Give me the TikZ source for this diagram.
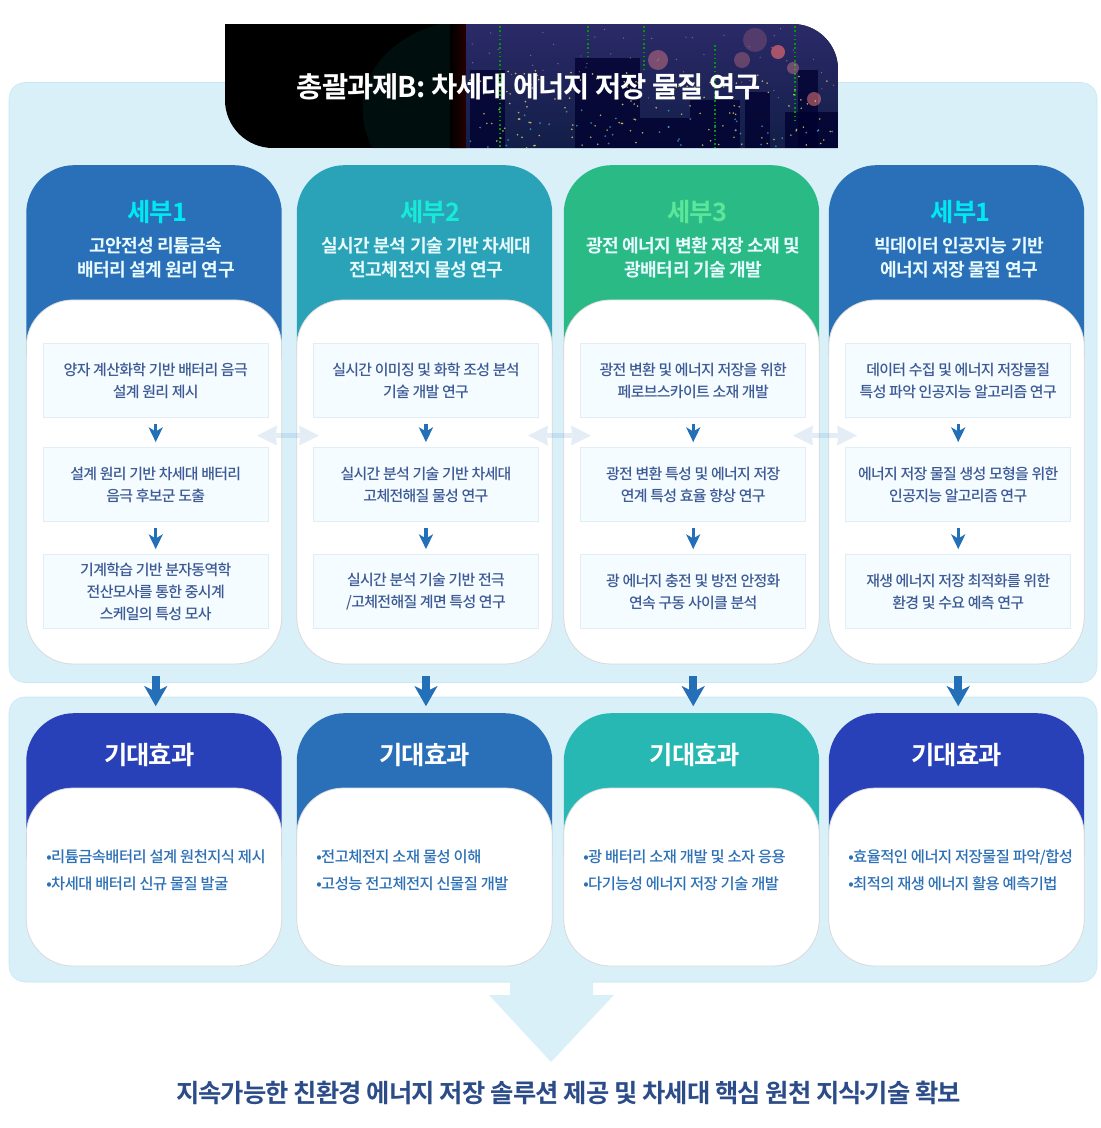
\documentclass[tikz,border=0pt]{standalone}
\usepackage{fontspec}
\setmainfont{Noto Sans CJK KR}
\newfontfamily\krbody[LetterSpace=-3.5]{Noto Sans CJK KR Medium}
\newfontfamily\krstep[LetterSpace=-4.5]{Noto Sans CJK KR Medium}
\newfontfamily\krhead[LetterSpace=-3.5,BoldFont={Noto Sans CJK KR Bold}]{Noto Sans CJK KR}
\usetikzlibrary{arrows.meta}
\definecolor{panelblue}{HTML}{D9F0F9}
\definecolor{paneledge}{HTML}{C6E7F5}
\definecolor{blue1}{HTML}{2970B8}
\definecolor{teal2}{HTML}{2AA2B8}
\definecolor{green3}{HTML}{2ABA85}
\definecolor{navy1}{HTML}{2840B8}
\definecolor{teal3}{HTML}{28B8B4}
\definecolor{boxfill}{HTML}{F4FCFF}
\definecolor{boxedge}{HTML}{E2EEF4}
\definecolor{boxtext}{HTML}{3D5A96}
\definecolor{listtext}{HTML}{2C70B6}
\definecolor{goaltext}{HTML}{2B4C88}
\definecolor{arrowblue}{HTML}{2470B8}
\definecolor{tagcyan}{HTML}{00E8F0}
\definecolor{tagaqua}{HTML}{17EBD8}
\definecolor{tagmint}{HTML}{5CE69A}
\definecolor{titletint}{HTML}{E8FBFF}
\tikzstyle{panel} = [rectangle, rounded corners=12pt, draw=paneledge, fill=panelblue, minimum width=816pt, inner sep=0pt]
\tikzstyle{headbox} = [rectangle, rounded corners=36pt, minimum width=191.6pt, inner sep=0pt]
\tikzstyle{bodybox} = [rectangle, rounded corners=35pt, minimum width=191.6pt, inner sep=0pt, draw=black!15, line width=.6pt, fill=white]
\tikzstyle{stepbox} = [rectangle, minimum width=169pt, minimum height=56pt, inner sep=0pt, draw=boxedge, line width=.8pt, fill=boxfill, text=boxtext, align=center, font=\krstep\fontsize{11.2}{16.5}\selectfont, execute at begin node={\rule{0pt}{15.4pt}}]
\tikzstyle{tagtext} = [font=\krhead\bfseries\fontsize{19}{23}\selectfont]
\tikzstyle{titletext} = [text=titletint, align=center, font=\krhead\bfseries\fontsize{13.6}{18.2}\selectfont]
\tikzstyle{effecttext} = [text=white, font=\krhead\bfseries\fontsize{19}{23}\selectfont]
\tikzstyle{listtext} = [inner sep=0pt, anchor=west, align=left, text=listtext, font=\krbody\fontsize{11.5}{20.25}\selectfont]
\tikzstyle{arrow} = [line width=2.4pt, draw=arrowblue, -{Stealth[length=11pt,width=10.5pt,inset=3pt]}, shorten <=4.4pt, shorten >=3.4pt]
\tikzstyle{bigarrow} = [line width=6pt, draw=arrowblue, -{Stealth[length=15pt,width=17pt,inset=4pt]}]
\tikzstyle{linkarrow} = [line width=3.6pt, draw=arrowblue, opacity=.12, {Stealth[length=15pt,width=15pt,inset=1pt,line width=0pt]}-{Stealth[length=15pt,width=15pt,inset=1pt,line width=0pt]}]

\begin{document}
\begin{tikzpicture}[x=0.75pt, y=-0.75pt]
\useasboundingbox (0,0) rectangle (1100,1128);

% panels and the big arrow
\fill [panelblue] (510,975) -- (593,975) -- (593,995) -- (614,995) -- (551,1062) -- (489,995) -- (510,995) -- cycle;
\node (panelA) [panel, minimum height=450pt] at (553,382.5) {};
\node (panelB) [panel, minimum height=213.75pt] at (553,839.5) {};
\fill [panelblue] (511,970) rectangle (592,995);

% banner
\begin{scope}
\clip [sharp corners] (225,24) [rounded corners=34pt] -- (838,24) [sharp corners] -- (838,148) [rounded corners=36pt] -- (225,148) [sharp corners] -- cycle;
\fill [black] (225,24) rectangle (838,148);
\fill [black!75!teal, opacity=.45] (372,148) .. controls (345,90) and (380,40) .. (440,24) -- (466,24) -- (466,148) -- cycle;
\shade [left color=black, right color=black!85!red] (450,24) rectangle (466,148);
\shade [top color={rgb,255:red,43;green,42;blue,104}, bottom color={rgb,255:red,18;green,30;blue,72}] (466,24) rectangle (838,148);
% city
\fill [black!70!blue!60!black, opacity=.75] (470,70) rectangle (505,148);
\fill [black!70!blue!60!black, opacity=.75] (575,58) rectangle (640,148);
\fill [black!70!blue!60!black, opacity=.75] (640,118) rectangle (690,148);
\fill [black!70!blue!60!black, opacity=.75] (690,100) rectangle (740,148);
\fill [black!70!blue!60!black, opacity=.75] (745,92) rectangle (770,148);
\fill [black!70!blue!60!black, opacity=.75] (798,70) rectangle (818,148);
\fill [black!70!blue!60!black, opacity=.75] (785,112) rectangle (838,148);
\draw [green!60!black, dotted, line width=1.2pt] (588,26) -- (588,60);
\draw [green!60!black, dotted, line width=1.2pt] (644,26) -- (644,70);
\draw [green!60!black, dotted, line width=1.2pt] (715,45) -- (715,148);
\draw [green!60!black, dotted, line width=1.2pt] (795,26) -- (795,120);
\draw [green!60!black, dotted, line width=1.2pt] (500,26) -- (500,148);
\fill [red!45!white, opacity=.4] (658,60) circle (10);
\fill [red!45!white, opacity=.2] (755,40) circle (12);
\fill [red!55!white, opacity=.6] (778,52) circle (7);
\fill [red!40!white, opacity=.35] (793,68) circle (6);
\fill [red!50!white, opacity=.5] (814,99) circle (7);
\fill [red!45!white, opacity=.3] (742,60) circle (8);
\pgfmathsetseed{7}
\foreach \i in {1,...,130}
  \fill [yellow!60!white, opacity=.7] ({470+rnd*366},{70+rnd*78}) circle (.9);
\foreach \i in {1,...,60}
  \fill [red!40!white, opacity=.5] ({470+rnd*366},{28+rnd*70}) circle (.7);
\foreach \i in {1,...,40}
  \fill [cyan!70!white, opacity=.6] ({470+rnd*366},{110+rnd*38}) circle (1);
\end{scope}
\node (banner) [text=white, font=\krhead\bfseries\fontsize{21.4}{25}\selectfont] at (529,87) {총괄과제B: 차세대 에너지 저장 물질 연구};

% research cards
\node (head1) [headbox, fill=blue1, minimum height=176pt] at (154,282.5) {};
\node (head2) [headbox, fill=teal2, minimum height=176pt] at (424.5,282.5) {};
\node (head3) [headbox, fill=green3, minimum height=176pt] at (691.5,282.5) {};
\node (head4) [headbox, fill=blue1, minimum height=176pt] at (956.5,282.5) {};

\node (tag1) [tagtext, text=tagcyan, node distance=53pt, above of=head1, xshift=2.4pt] {세부1};
\node (tag2) [tagtext, text=tagaqua, node distance=53pt, above of=head2, xshift=4.2pt] {세부2};
\node (tag3) [tagtext, text=tagmint, node distance=53pt, above of=head3, xshift=4.2pt] {세부3};
\node (tag4) [tagtext, text=tagcyan, node distance=53pt, above of=head4, xshift=3pt] {세부1};

\node (title1) [titletext, node distance=18.4pt, above of=head1, xshift=1.5pt] {고안전성 리튬금속\\배터리 설계 원리 연구};
\node (title2) [titletext, node distance=18.4pt, above of=head2, xshift=1.5pt] {실시간 분석 기술 기반 차세대\\전고체전지 물성 연구};
\node (title3) [titletext, node distance=18.4pt, above of=head3, xshift=1.5pt] {광전 에너지 변환 저장 소재 및\\광배터리 기술 개발};
\node (title4) [titletext, node distance=18.4pt, above of=head4, xshift=2pt] {빅데이터 인공지능 기반\\에너지 저장 물질 연구};

\node (body1) [bodybox, minimum height=273pt, node distance=149.6pt, below of=head1] {};
\node (body2) [bodybox, minimum height=273pt, node distance=149.6pt, below of=head2] {};
\node (body3) [bodybox, minimum height=273pt, node distance=149.6pt, below of=head3] {};
\node (body4) [bodybox, minimum height=273pt, node distance=149.6pt, below of=head4] {};

\node (a1) [stepbox, node distance=76.1pt, above of=body1, xshift=1.3pt] {양자 계산화학 기반 배터리 음극\\설계 원리 제시};
\node (a2) [stepbox, node distance=78pt, below of=a1] {설계 원리 기반 차세대 배터리\\음극 후보군 도출};
\node (a3) [stepbox, node distance=80.25pt, below of=a2] {기계학습 기반 분자동역학\\전산모사를 통한 중시계\\스케일의 특성 모사};

\node (b1) [stepbox, node distance=76.1pt, above of=body2, xshift=1.1pt] {실시간 이미징 및 화학 조성 분석\\기술 개발 연구};
\node (b2) [stepbox, node distance=78pt, below of=b1] {실시간 분석 기술 기반 차세대\\고체전해질 물성 연구};
\node (b3) [stepbox, node distance=80.25pt, below of=b2] {실시간 분석 기술 기반 전극\\/고체전해질 계면 특성 연구};

\node (c1) [stepbox, node distance=76.1pt, above of=body3, xshift=1.3pt] {광전 변환 및 에너지 저장을 위한\\페로브스카이트 소재 개발};
\node (c2) [stepbox, node distance=78pt, below of=c1] {광전 변환 특성 및 에너지 저장\\연계 특성 효율 향상 연구};
\node (c3) [stepbox, node distance=80.25pt, below of=c2] {광 에너지 충전 및 방전 안정화\\연속 구동 사이클 분석};

\node (d1) [stepbox, node distance=76.1pt, above of=body4, xshift=1.3pt] {데이터 수집 및 에너지 저장물질\\특성 파악 인공지능 알고리즘 연구};
\node (d2) [stepbox, node distance=78pt, below of=d1] {에너지 저장 물질 생성 모형을 위한\\인공지능 알고리즘 연구};
\node (d3) [stepbox, node distance=80.25pt, below of=d2] {재생 에너지 저장 최적화를 위한\\환경 및 수요 예측 연구};

% effect cards
\node (ehead1) [headbox, fill=navy1, minimum height=140pt] at (154,806.5) {};
\node (ehead2) [headbox, fill=blue1, minimum height=140pt] at (424.5,806.5) {};
\node (ehead3) [headbox, fill=teal3, minimum height=140pt] at (691.5,806.5) {};
\node (ehead4) [headbox, fill=navy1, minimum height=140pt] at (956.5,806.5) {};

\node (eff1) [effecttext, node distance=39pt, above of=ehead1, xshift=-3.5pt] {기대효과};
\node (eff2) [effecttext, node distance=39pt, above of=ehead2] {기대효과};
\node (eff3) [effecttext, node distance=39pt, above of=ehead3, xshift=2.5pt] {기대효과};
\node (eff4) [effecttext, node distance=39pt, above of=ehead4] {기대효과};

\node (ebody1) [bodybox, minimum height=133.5pt, node distance=52.9pt, below of=ehead1] {};
\node (ebody2) [bodybox, minimum height=133.5pt, node distance=52.9pt, below of=ehead2] {};
\node (ebody3) [bodybox, minimum height=133.5pt, node distance=52.9pt, below of=ehead3] {};
\node (ebody4) [bodybox, minimum height=133.5pt, node distance=52.9pt, below of=ehead4] {};

\node (list1) [listtext] at (46,870.5) {•리튬금속배터리 설계 원천지식 제시\\•차세대 배터리 신규 물질 발굴};
\node (list2) [listtext] at (316,870.5) {•전고체전지 소재 물성 이해\\•고성능 전고체전지 신물질 개발};
\node (list3) [listtext] at (583,870.5) {•광 배터리 소재 개발 및 소자 응용\\•다기능성 에너지 저장 기술 개발};
\node (list4) [listtext] at (848,870.5) {•효율적인 에너지 저장물질 파악/합성\\•최적의 재생 에너지 활용 예측기법};

\node (goal) [text=goaltext, font=\krhead\bfseries\fontsize{19}{23}\selectfont] at (568.5,1093) {지속가능한 친환경 에너지 저장 솔루션 제공 및 차세대 핵심 원천 지식{\kern-.25em·\kern-.25em}기술 확보};

% arrows
\draw [arrow] (a1) -- (a2);
\draw [arrow] (a2) -- (a3);
\draw [arrow] (b1) -- (b2);
\draw [arrow] (b2) -- (b3);
\draw [arrow] (c1) -- (c2);
\draw [arrow] (c2) -- (c3);
\draw [arrow] (d1) -- (d2);
\draw [arrow] (d2) -- (d3);

\draw [bigarrow, shorten <=35pt, shorten >=5pt] (a3.south) -- (a3.south |- ehead1.north);
\draw [bigarrow, shorten <=35pt, shorten >=5pt] (b3.south) -- (b3.south |- ehead2.north);
\draw [bigarrow, shorten <=35pt, shorten >=5pt] (c3.south) -- (c3.south |- ehead3.north);
\draw [bigarrow, shorten <=35pt, shorten >=5pt] (d3.south) -- (d3.south |- ehead4.north);

\coordinate (linkA) at (257,435.5);
\coordinate (linkB) at (319,435.5);
\coordinate (linkC) at (528,435.5);
\coordinate (linkD) at (591,435.5);
\coordinate (linkE) at (793,435.5);
\coordinate (linkF) at (857,435.5);
\draw [linkarrow] (linkA) -- (linkB);
\draw [linkarrow] (linkC) -- (linkD);
\draw [linkarrow] (linkE) -- (linkF);

\end{tikzpicture}
\end{document}
